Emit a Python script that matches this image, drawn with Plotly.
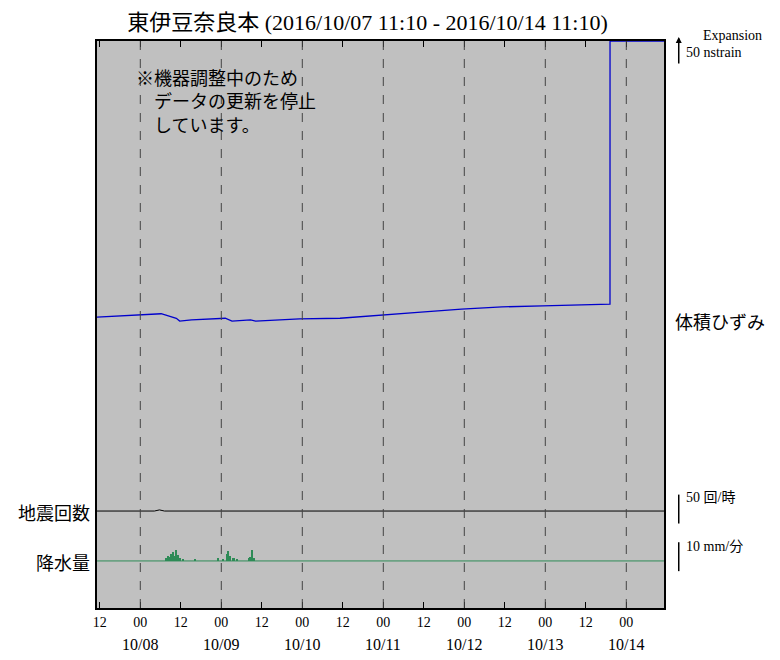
import plotly.graph_objects as go
from datetime import datetime, timedelta

start = datetime(2016,10,7,11,10)
def t(h): return start + timedelta(hours=h)

# volumetric strain (hours since start, relative level 0-100)
strain_h = [0, 19, 23.5, 24.5, 28, 38, 40, 45.5, 47, 60, 72, 84, 96, 108, 120, 132, 144, 152, 152.01, 168]
strain_v = [51.3, 51.9, 51.1, 50.6, 50.8, 51.1, 50.6, 50.8, 50.6, 51.0, 51.1, 51.7, 52.2, 52.7, 53.1, 53.3, 53.4, 53.6, 100, 100]
quake_h = [0, 17, 18.5, 20, 168]
quake_v = [17.1, 17.1, 17.3, 17.1, 17.1]
rain_base = 8.3
rain_h = [20.5, 21, 21.5, 22, 22.5, 23, 23.5, 24, 24.5, 25.5, 29, 36, 37.5, 38.5, 39, 39.5, 40.5, 41.5, 45, 45.5, 46, 46.5]
rain_v = [0.6, 0.8, 0.7, 1.2, 1.6, 0.9, 2.0, 1.1, 0.6, 0.3, 0.4, 0.5, 0.3, 1.3, 1.7, 0.8, 0.6, 0.4, 0.5, 0.7, 1.9, 0.5]
tick_h = [0.83 + 12*i for i in range(14)]
tick_txt = ["12","00"]*7
date_txt = ["10/08","10/09","10/10","10/11","10/12","10/13","10/14"]

fig = go.Figure()
fig.add_trace(go.Scatter(x=[t(h) for h in strain_h], y=strain_v, mode="lines", line=dict(color="#0000cc", width=1.3)))
fig.add_trace(go.Scatter(x=[t(h) for h in quake_h], y=quake_v, mode="lines", line=dict(color="black", width=1)))
fig.add_trace(go.Scatter(x=[t(0), t(168)], y=[rain_base]*2, mode="lines", line=dict(color="#2e8b57", width=1)))
fig.add_trace(go.Bar(x=[t(h) for h in rain_h], y=rain_v, base=rain_base, marker=dict(color="#2e8b57", line_width=0), width=1.8e6))

for i, h in enumerate(tick_h):
    if i % 2 == 1:
        fig.add_vline(x=t(h), line=dict(color="#444", width=1, dash="dash"))

F = "Liberation Serif, Noto Sans CJK JP"
fig.update_layout(
    width=765, height=645, showlegend=False, plot_bgcolor="#c0c0c0", paper_bgcolor="white",
    margin=dict(l=89, r=109, t=33, b=45), bargap=0,
    font=dict(family=F, color="black"),
    title=dict(text="東伊豆奈良本 (2016/10/07 11:10 - 2016/10/14 11:10)", x=0.47, y=0.978, yanchor="middle",
               font=dict(size=22)),
    xaxis=dict(range=[t(0), t(168)], tickvals=[t(h) for h in tick_h], ticktext=tick_txt, ticks="inside",
               ticklen=6, tickcolor="black", showgrid=False, showline=True, linecolor="black", linewidth=2,
               mirror="ticks", tickfont=dict(size=14), zeroline=False),
    yaxis=dict(range=[0, 100], showticklabels=False, showgrid=False, zeroline=False, showline=True,
               linecolor="black", linewidth=2, mirror=True, ticks=""),
)
fig.add_annotation(xref="paper", yref="paper", x=0.065, y=0.955, text="※機器調整中のため<br>　データの更新を停止<br>　しています。",
                   align="left", xanchor="left", yanchor="top", showarrow=False, font=dict(size=18))
for x, d in enumerate(date_txt):
    fig.add_annotation(xref="x", yref="paper", x=t(12.83+24*x), y=-0.046, text=d, showarrow=False,
                       yanchor="top", font=dict(size=16))
side = [(1.015, 0.503, "体積ひずみ", 18, "left"), (-0.008, 0.144, "地震回数", 18, "right"), (-0.008, 0.056, "降水量", 18, "right"),
        (1.035, 0.179, "50 回/時", 14, "left"), (1.035, 0.092, "10 mm/分", 14, "left"),
        (1.12, 1.026, "Expansion", 14, "center"), (1.035, 0.996, "50 nstrain", 14, "left")]
for x, y, s, sz, xa in side:
    fig.add_annotation(xref="paper", yref="paper", x=x, y=y, text=s, showarrow=False, xanchor=xa, font=dict(size=sz))
fig.add_shape(type="line", xref="paper", yref="paper", x0=1.026, x1=1.026, y0=0.149, y1=0.2, line=dict(color="black", width=1.5))
fig.add_shape(type="line", xref="paper", yref="paper", x0=1.026, x1=1.026, y0=0.065, y1=0.116, line=dict(color="black", width=1.5))
fig.add_annotation(xref="paper", yref="paper", x=1.026, y=1.007, ax=0, ay=28,
                   text="", showarrow=True, arrowhead=2, arrowsize=0.8, arrowwidth=1.5, arrowcolor="black")
fig.write_html("out.html")
